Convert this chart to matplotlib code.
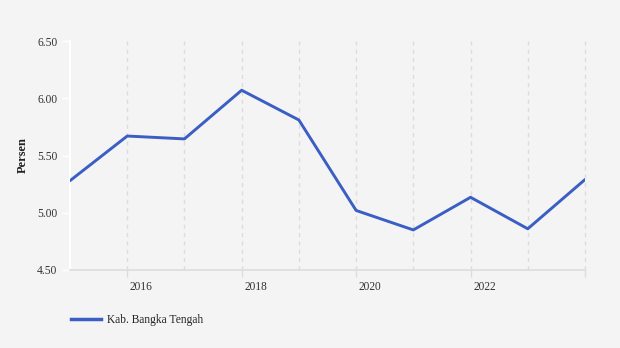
import matplotlib
matplotlib.use("Agg")
import matplotlib.pyplot as plt
import matplotlib.transforms as mtransforms
from matplotlib.lines import Line2D

years = [2015, 2016, 2017, 2018, 2019, 2020, 2021, 2022, 2023, 2024]
values = [5.28, 5.67, 5.645, 6.07, 5.81, 5.02, 4.85, 5.135, 4.86, 5.29]
series_name = "Kab. Bangka Tengah"
y_ticks = [4.50, 5.00, 5.50, 6.00, 6.50]
x_label_years = [2016, 2018, 2020, 2022]

bg = "#f4f4f4"
line_color = "#3a5ec4"
plt.rcParams["font.family"] = ["Liberation Serif", "DejaVu Serif"]

fig = plt.figure(figsize=(6.2, 3.48), dpi=100, facecolor=bg)
ax = fig.add_axes([70 / 620, 78 / 348, 515 / 620, 229 / 348], facecolor=bg)

# vertical dashed grid at every year
for yr in years[1:]:
    ax.axvline(yr, color="#dcdcdc", linestyle=(0, (3, 3)), linewidth=1, zorder=1, clip_on=False)

ax.plot(years, values, color=line_color, linewidth=2.1, zorder=3, solid_capstyle="round")

ax.set_xlim(2015, 2024)
ax.set_ylim(4.5, 6.5)
ax.set_yticks(y_ticks)
ax.set_yticklabels([f"{v:.2f}" for v in y_ticks], fontsize=8.3, color="#333333")
ax.tick_params(axis="y", length=6, width=1, color="white", pad=3)

ax.set_xticks(x_label_years + [2024])
ax.set_xticklabels([str(y) for y in x_label_years] + [""], fontsize=8.3, color="#333333")
ax.tick_params(axis="x", length=5, width=1, color="#dddddd", pad=3)
offset = mtransforms.ScaledTranslation(14 / 100, 0, fig.dpi_scale_trans)
for lbl in ax.get_xticklabels():
    lbl.set_transform(lbl.get_transform() + offset)

for side in ["top", "right"]:
    ax.spines[side].set_visible(False)
ax.spines["left"].set_color("white")
ax.spines["left"].set_linewidth(1.5)
ax.spines["bottom"].set_color("#dddddd")
ax.spines["bottom"].set_linewidth(1.2)

fig.text(23 / 620, 1 - 155 / 348, "Persen", rotation=90, ha="center", va="center",
         fontsize=9, fontweight="bold", color="#222222")

handle = Line2D([0], [0], color=line_color, linewidth=2.5)
fig.legend([handle], [series_name], loc="center left", bbox_to_anchor=(61 / 620, 1 - 320 / 348),
           frameon=False, fontsize=8.3, handlelength=2.6, handletextpad=0.5, labelcolor="#222222")

fig.savefig("out.png", dpi=100, facecolor=bg)
